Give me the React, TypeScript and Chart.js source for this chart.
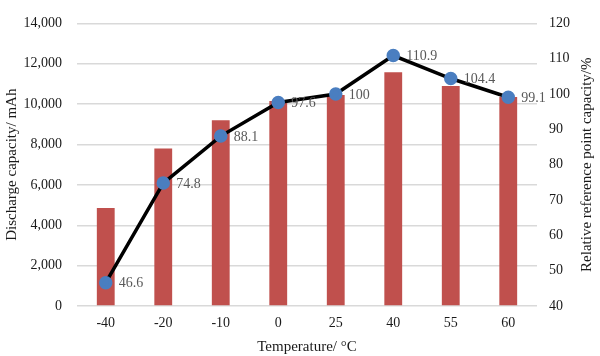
import React, { useEffect, useRef } from "react";
import { Chart, registerables } from "chart.js";

Chart.register(...registerables);

const categories = ["-40", "-20", "-10", "0", "25", "40", "55", "60"];
const dischargeCapacity = [4850, 7800, 9200, 10150, 10450, 11580, 10900, 10350];
const relativeCapacity = [46.6, 74.8, 88.1, 97.6, 100, 110.9, 104.4, 99.1];
const leftTitle = "Discharge capacity/ mAh";
const rightTitle = "Relative reference point capacity/%";
const xTitle = "Temperature/ °C";

const FONT = "'Liberation Serif', 'Times New Roman', serif";

export default function App() {
  const ref = useRef<HTMLCanvasElement | null>(null);

  useEffect(() => {
    document.body.style.margin = "0";
    const canvas = ref.current;
    if (!canvas) return;

    const overlay = {
      id: "overlay",
      afterDatasetsDraw(chart: any) {
        const ctx = chart.ctx;
        const meta = chart.getDatasetMeta(1);
        ctx.save();
        ctx.font = `14px ${FONT}`;
        ctx.fillStyle = "#595959";
        ctx.textAlign = "left";
        ctx.textBaseline = "middle";
        meta.data.forEach((pt: any, i: number) => {
          ctx.fillText(String(relativeCapacity[i]), pt.x + 13, pt.y + 1);
        });
        ctx.restore();
      },
      afterDraw(chart: any) {
        const ctx = chart.ctx;
        const area = chart.chartArea;
        ctx.save();
        ctx.font = `15px ${FONT}`;
        ctx.fillStyle = "#1a1a1a";
        ctx.textAlign = "center";
        ctx.textBaseline = "middle";
        ctx.translate(587, (area.top + area.bottom) / 2);
        ctx.rotate(-Math.PI / 2);
        ctx.fillText(rightTitle, 0, 0);
        ctx.restore();
      },
    };

    const chart = new Chart(canvas, {
      data: {
        labels: categories,
        datasets: [
          {
            type: "bar",
            data: dischargeCapacity,
            backgroundColor: "#C0504D",
            yAxisID: "y",
            barPercentage: 0.31,
            categoryPercentage: 1,
            order: 2,
          },
          {
            type: "line",
            data: relativeCapacity,
            borderColor: "#000",
            borderWidth: 3.5,
            pointBackgroundColor: "#4A7EC0",
            pointBorderColor: "#4A7EC0",
            pointRadius: 5,
            yAxisID: "y1",
            order: 1,
            tension: 0,
          },
        ],
      } as any,
      options: {
        animation: false,
        responsive: false,
        maintainAspectRatio: false,
        layout: { padding: { top: 11, left: 0, right: 0, bottom: 0 } },
        plugins: {
          legend: { display: false },
          tooltip: { enabled: false },
        },
        scales: {
          x: {
            grid: { display: false, drawTicks: false },
            border: { display: false },
            ticks: { font: { family: FONT, size: 14 }, color: "#1a1a1a", padding: 9 },
            title: {
              display: true,
              text: xTitle,
              font: { family: FONT, size: 15 },
              color: "#1a1a1a",
              padding: { top: 3, bottom: 0 },
            },
            afterFit: (s: any) => {
              s.height = 50;
            },
          },
          y: {
            position: "left",
            min: 0,
            max: 14000,
            ticks: {
              stepSize: 2000,
              font: { family: FONT, size: 14 },
              color: "#1a1a1a",
              padding: 15,
              callback: (v: any) => Number(v).toLocaleString("en-US"),
            },
            grid: { color: "#D9D9D9", lineWidth: 1.5, drawTicks: false },
            border: { display: false },
            title: {
              display: true,
              text: leftTitle,
              font: { family: FONT, size: 15 },
              color: "#1a1a1a",
              padding: { top: 3, bottom: 0 },
            },
            afterFit: (s: any) => {
              s.width = 77;
            },
          },
          y1: {
            position: "right",
            min: 40,
            max: 120,
            ticks: {
              stepSize: 10,
              font: { family: FONT, size: 14 },
              color: "#1a1a1a",
              padding: 12,
            },
            grid: { display: false, drawTicks: false },
            border: { display: false },
            afterFit: (s: any) => {
              s.width = 63;
            },
          },
        },
      },
      plugins: [overlay],
    });

    return () => chart.destroy();
  }, []);

  return (
    <div style={{ width: 600, height: 356 }}>
      <canvas ref={ref} width={600} height={356} style={{ display: "block" }} />
    </div>
  );
}
